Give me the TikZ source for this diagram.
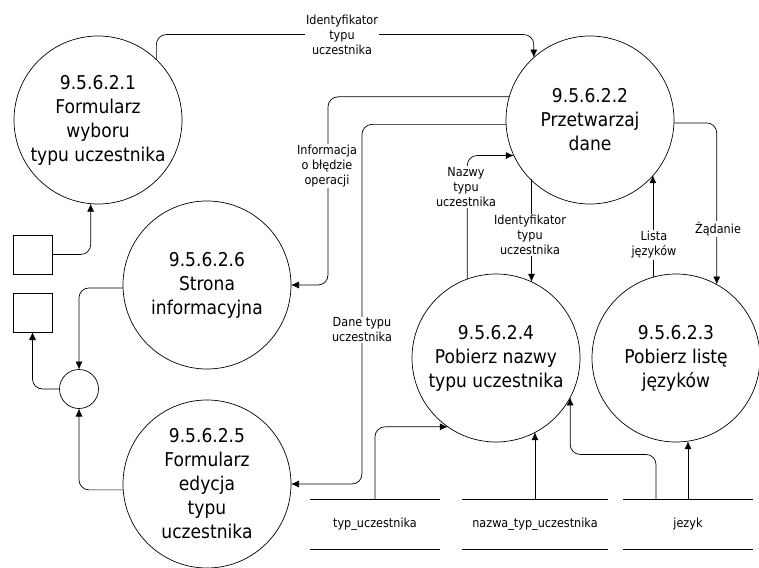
\documentclass[tikz,border=0pt]{standalone}
\usepackage{fontspec}
\setmainfont{DejaVu Sans}[FakeStretch=0.9]
\usetikzlibrary{arrows.meta}
\tikzset{
  proces/.style={circle, draw, line width=0.7pt, minimum size=168pt, inner sep=0pt, outer sep=0pt,
    align=center, font=\fontsize{19}{24}\selectfont},
  opis/.style={fill=white, inner sep=1pt, align=center, font=\fontsize{12.5}{15}\selectfont},
  magazyn/.style={minimum width=#1, minimum height=49pt, inner sep=0pt, font=\fontsize{12.5}{15}\selectfont},
  zrodlo/.style={draw, line width=0.7pt, minimum size=39pt, inner sep=0pt, outer sep=0pt},
  przeplyw/.style={->, line width=0.7pt, rounded corners=10pt},
}
\begin{document}
\begin{tikzpicture}[x=1pt, y=-1pt, >={Latex[length=8pt,width=7pt]}]
                \useasboundingbox (0,0) rectangle (759,567);
                % Procesy
                \node[proces] (p1) at (98,120) {9.5.6.2.1\\Formularz\\wyboru\\typu uczestnika};
                \node[proces] (p2) at (590,120) {9.5.6.2.2\\Przetwarzaj\\dane};
                \node[proces] (p3) at (676,358) {9.5.6.2.3\\Pobierz listę\\języków};
                \node[proces] (p4) at (496,358) {9.5.6.2.4\\Pobierz nazwy\\typu uczestnika};
                \node[proces] (p5) at (207,484) {9.5.6.2.5\\Formularz\\edycja\\typu\\uczestnika};
                \node[proces] (p6) at (207,285) {9.5.6.2.6\\Strona\\informacyjna};
                % Terminatory i zlacze
                \node[zrodlo] (t1) at (32.5,254.5) {};
                \node[zrodlo] (t2) at (32.5,312.5) {};
                \node[circle, draw, line width=0.7pt, minimum size=39pt, inner sep=0pt, outer sep=0pt] (z) at (79,389) {};
                % Magazyny danych
                \node[magazyn=130pt] (m1) at (375,524.5) {typ\_uczestnika};
                \node[magazyn=146pt] (m2) at (535,524.5) {nazwa\_typ\_uczestnika};
                \node[magazyn=130pt] (m3) at (688,524.5) {jezyk};
                \foreach \m in {m1,m2,m3}
                    \draw[line width=0.7pt] (\m.north west) -- (\m.north east) (\m.south west) -- (\m.south east);
                % Przeplywy
                \draw[przeplyw] (p1.46) |- ([yshift=23pt]p2.132) -- (p2.132);
                \draw[przeplyw] (p2.164) -| ([xshift=37pt]p6.0) -- (p6.0);
                \draw[przeplyw] (p2.183) -| ([xshift=71pt]p5.0) -- (p5.0);
                \draw[przeplyw] (p4.110) |- (p2.205);
                \draw[przeplyw] (p4.65 |- p2.225) -- (p4.65);
                \draw[przeplyw] (p3.106) -- (p3.106 |- p2.319);
                \draw[przeplyw] (p2.358) -| (p3.61);
                \draw[przeplyw] (m1.north) |- (p4.235);
                \draw[przeplyw] (m2.north) -- (m2.north |- p4.298);
                \draw[przeplyw] ([xshift=-32pt]m3.north) |- ([yshift=-57pt]p4.332) -- (p4.332);
                \draw[przeplyw] (m3.north) -- (m3.north |- p3.278);
                \draw[przeplyw] (t1.east) -| (p1.265);
                \draw[przeplyw] (p6.182) -| (z.north);
                \draw[przeplyw] (p5.184) -| (z.south);
                \draw[przeplyw] (z.west) -| (t2.south);
                % Opisy przeplywow
                \node[opis] (o1) at (342,35) {Identyfikator\\typu\\uczestnika};
                \node[opis] (o2) at (327,166) {Informacja\\o błędzie\\operacji};
                \node[opis] (o3) at (362,330) {Dane typu\\uczestnika};
                \node[opis] (o4) at (466,187) {Nazwy\\typu\\uczestnika};
                \node[opis] (o5) at (530,235) {Identyfikator\\typu\\uczestnika};
                \node[opis] (o6) at (654,245) {Lista\\języków};
                \node[opis] (o7) at (718,229) {Żądanie};
\end{tikzpicture}
\end{document}
